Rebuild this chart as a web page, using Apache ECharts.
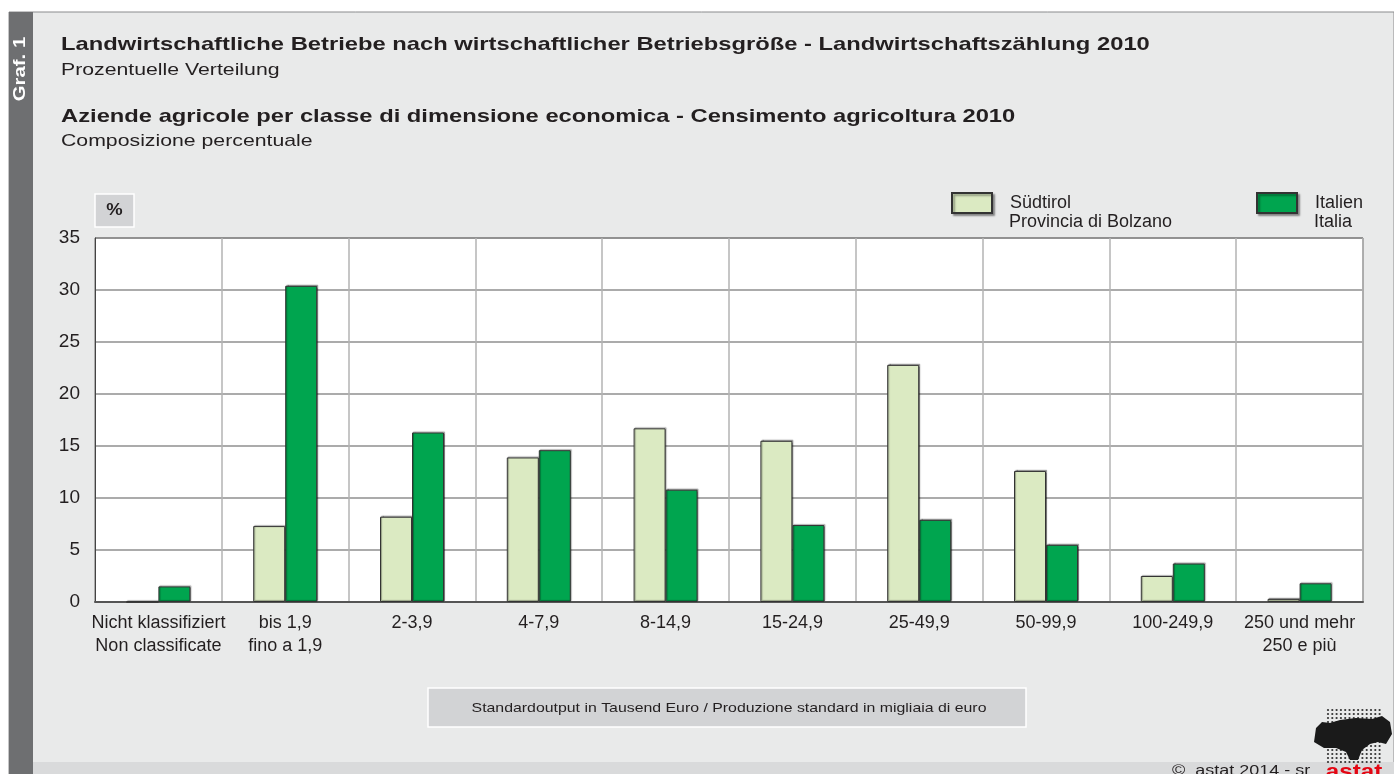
<!DOCTYPE html>
<html><head><meta charset="utf-8">
<script src="https://cdn.jsdelivr.net/npm/echarts@6/dist/echarts.min.js"></script>
<style>html,body{margin:0;padding:0;background:#fff}#c{width:1394px;height:774px}</style>
</head><body><div id="c"></div>
<script>
const categories = [
  'Nicht klassifiziert\nNon classificate',
  'bis 1,9\nfino a 1,9',
  '2-3,9', '4-7,9', '8-14,9', '15-24,9', '25-49,9', '50-99,9', '100-249,9',
  '250 und mehr\n250 e più'
];
const suedtirol = [0, 7.3, 8.2, 13.9, 16.7, 15.5, 22.8, 12.6, 2.5, 0.3];
const italien   = [1.5, 30.4, 16.3, 14.6, 10.8, 7.4, 7.9, 5.5, 3.7, 1.8];
const seriesNames = ['Südtirol', 'Italien'];
const legendSecondLines = ['Provincia di Bolzano', 'Italia'];
const yTicks = { min: 0, max: 35, interval: 5 };

const FONT = '"Liberation Sans", Arial, sans-serif';
const SX = 1.25;
const chart = echarts.init(document.getElementById('c'), null, {renderer: 'canvas'});

// decorative logo
const logo = [];
for (let i = 0; i < 13; i++) {
  for (let j = 0; j < 14; j++) {
    logo.push({type: 'circle', shape: {cx: 1328 + i * 4.3, cy: 710 + j * 4, r: 1.1}, style: {fill: '#333'}, z: 10});
  }
}
logo.push({type: 'polygon', shape: {points: [[1316,728],[1322,722],[1330,723],[1340,720],[1356,718],[1372,719],[1382,716],[1390,722],[1392,734],[1386,744],[1378,742],[1370,744],[1362,750],[1358,760],[1350,760],[1346,752],[1336,748],[1324,748],[1314,742]]}, style: {fill: '#1a1a1a'}, z: 11});

function txt(x, y, text, font, opts) {
  return Object.assign({type: 'text', x: x, y: y, scaleX: SX, style: {text: text, fill: '#231f20', font: font + ' ' + FONT, verticalAlign: 'middle'}}, opts || {});
}

chart.setOption({
  animation: false,
  backgroundColor: '#fff',
  textStyle: {fontFamily: FONT},
  graphic: [
    {type: 'rect', shape: {x: 9, y: 12, width: 1385, height: 762}, style: {fill: '#e9eaea', stroke: '#8a8b8d', lineWidth: 1}, z: -10},
    {type: 'rect', shape: {x: 9, y: 12, width: 24, height: 762}, style: {fill: '#6e6f71'}, z: -9},
    {type: 'rect', shape: {x: 33, y: 762, width: 1361, height: 12}, style: {fill: '#d9dadb'}, z: -9},
    {type: 'text', x: 21, y: 69, rotation: Math.PI / 2, scaleX: 1.27, style: {text: 'Graf. 1', fill: '#fff', font: 'bold 16px ' + FONT, align: 'center', verticalAlign: 'middle'}},
    txt(61, 45, 'Landwirtschaftliche Betriebe nach wirtschaftlicher Betriebsgröße - Landwirtschaftszählung 2010', 'bold 19px'),
    txt(61, 70, 'Prozentuelle Verteilung', '17px'),
    txt(61, 117, 'Aziende agricole per classe di dimensione economica - Censimento agricoltura 2010', 'bold 19px'),
    txt(61, 141, 'Composizione percentuale', '17px'),
    {type: 'rect', shape: {x: 95, y: 194, width: 39, height: 33}, style: {fill: '#d2d3d5', stroke: '#fff', lineWidth: 1.5}},
    {type: 'text', x: 114.5, y: 211, scaleX: 1.15, style: {text: '%', fill: '#231f20', font: 'bold 16px ' + FONT, align: 'center', verticalAlign: 'middle'}},
    {type: 'rect', shape: {x: 428, y: 688, width: 598, height: 39}, style: {fill: '#d2d3d5', stroke: '#fff', lineWidth: 1.5}},
    {type: 'text', x: 729, y: 708, scaleX: 1.22, style: {text: 'Standardoutput in Tausend Euro / Produzione standard in migliaia di euro', fill: '#231f20', font: '13px ' + FONT, align: 'center', verticalAlign: 'middle'}},
    txt(1172, 771, '©  astat 2014 - sr', '15px', {scaleX: 1.2}),
    {type: 'text', x: 1354, y: 772, scaleX: 1.15, style: {text: 'astat', fill: '#e30613', font: 'bold 21px ' + FONT, align: 'center', verticalAlign: 'middle'}, z: 12},
    {type: 'text', x: 1009, y: 222, style: {text: legendSecondLines[0], fill: '#231f20', font: '18px ' + FONT, verticalAlign: 'middle'}},
    {type: 'text', x: 1314, y: 222, style: {text: legendSecondLines[1], fill: '#231f20', font: '18px ' + FONT, verticalAlign: 'middle'}}
  ].concat(logo),
  legend: [
    {data: [seriesNames[0]], left: 951, top: 191, padding: 0, itemWidth: 40, itemHeight: 20, selectedMode: false, icon: 'rect',
     itemStyle: {shadowColor: 'rgba(0,0,0,0.35)', shadowBlur: 2, shadowOffsetX: 2, shadowOffsetY: 2},
     textStyle: {fontSize: 18, lineHeight: 20, color: '#231f20', fontFamily: FONT, padding: [0, 0, 4, 13]}},
    {data: [seriesNames[1]], left: 1256, top: 191, padding: 0, itemWidth: 40, itemHeight: 20, selectedMode: false, icon: 'rect',
     itemStyle: {shadowColor: 'rgba(0,0,0,0.35)', shadowBlur: 2, shadowOffsetX: 2, shadowOffsetY: 2},
     textStyle: {fontSize: 18, lineHeight: 20, color: '#231f20', fontFamily: FONT, padding: [0, 0, 4, 13]}}
  ],
  grid: {left: 95, right: 31, top: 238, bottom: 172, show: true, backgroundColor: '#fff', borderColor: '#444', borderWidth: 1},
  xAxis: {
    type: 'category', data: categories,
    axisLine: {show: true, lineStyle: {color: '#555', width: 2}},
    axisTick: {show: false},
    axisLabel: {interval: 0, fontSize: 18, lineHeight: 23, color: '#231f20', margin: 10, fontFamily: FONT},
    splitLine: {show: true, interval: 0, lineStyle: {color: '#b3b3b3', width: 1.5}}
  },
  yAxis: {
    type: 'value', min: yTicks.min, max: yTicks.max, interval: yTicks.interval,
    axisLine: {show: true, lineStyle: {color: '#444', width: 1}},
    axisTick: {show: false},
    axisLabel: {fontSize: 19, color: '#231f20', margin: 15, fontFamily: FONT},
    splitLine: {lineStyle: {color: '#8f8f8f', width: 1.5}}
  },
  series: [
    {name: seriesNames[0], type: 'bar', data: suedtirol, barWidth: 32, barGap: '0%',
     itemStyle: {color: '#dbeac2', borderColor: '#333', borderWidth: 1, shadowColor: 'rgba(0,0,0,0.35)', shadowOffsetX: 1, shadowOffsetY: -1, shadowBlur: 1}},
    {name: seriesNames[1], type: 'bar', data: italien, barWidth: 32, barGap: '0%',
     itemStyle: {color: '#00a54f', borderColor: '#333', borderWidth: 1, shadowColor: 'rgba(0,0,0,0.35)', shadowOffsetX: 1, shadowOffsetY: -1, shadowBlur: 1}}
  ]
});
</script>
</body></html>
